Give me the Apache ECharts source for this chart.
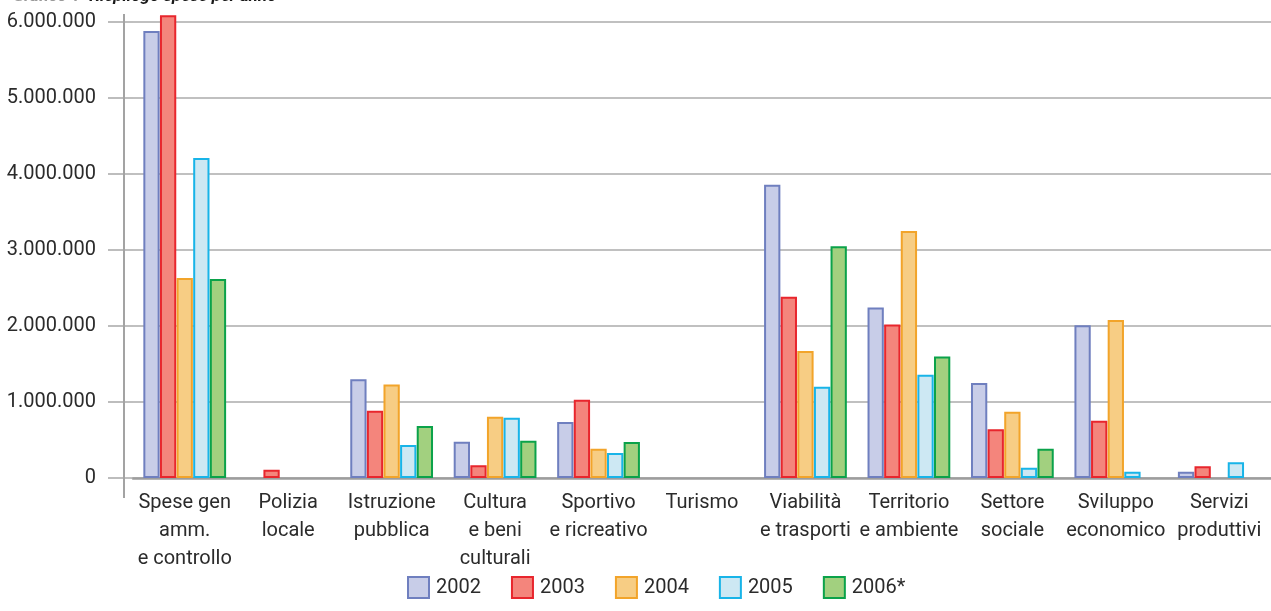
<!DOCTYPE html>
<html>
<head>
<meta charset="utf-8">
<script src="https://cdn.jsdelivr.net/npm/echarts@6/dist/echarts.min.js"></script>
<style>
  html, body { margin: 0; padding: 0; background: #ffffff; }
  #chart { width: 1271px; height: 611px; }
</style>
</head>
<body>
<div id="chart"></div>
<script>
// Spending by sector and year (euro)
const categories = [
  'Spese gen\namm.\ne controllo',
  'Polizia\nlocale',
  'Istruzione\npubblica',
  'Cultura\ne beni\nculturali',
  'Sportivo\ne ricreativo',
  'Turismo',
  'Viabilità\ne trasporti',
  'Territorio\ne ambiente',
  'Settore\nsociale',
  'Sviluppo\neconomico',
  'Servizi\nproduttivi'
];

const years = ['2002', '2003', '2004', '2005', '2006*'];

const values2002 = [5880000, null, 1300000, 478000, 737000, null, 3860000, 2245000, 1250000, 2010000, 83000];
const values2003 = [6090000, 110000, 885000, 167000, 1030000, null, 2385000, 2020000, 640000, 754000, 154000];
const values2004 = [2630000, null, 1230000, 807000, 386000, null, 1670000, 3250000, 873000, 2080000, null];
const values2005 = [4210000, null, 434000, 794000, 329000, null, 1200000, 1360000, 136000, 83000, 206000];
const values2006 = [2620000, null, 684000, 491000, 474000, null, 3050000, 1600000, 386000, null, null];

const yTicks = [0, 1000000, 2000000, 3000000, 4000000, 5000000, 6000000];

const seriesValues = [values2002, values2003, values2004, values2005, values2006];
const fills = ['#c8cde8', '#f4857c', '#f7cd84', '#cde8f3', '#a2d07f'];
const borders = ['#6f7fbf', '#e8262d', '#f2a42a', '#18b4e8', '#0ba24a'];

const FONT = 'Roboto, "Liberation Sans", Arial, sans-serif';
const TEXT = '#2b2b2b';

function fmt(v) {
  return String(v).replace(/\B(?=(\d{3})+(?!\d))/g, '.');
}

const chart = echarts.init(document.getElementById('chart'), null, { renderer: 'canvas' });

const yMin = yTicks[0];
const yMax = yTicks[yTicks.length - 1];
const yStep = yTicks[1] - yTicks[0];

const option = {
  animation: false,
  backgroundColor: '#ffffff',
  textStyle: { fontFamily: FONT },
  title: {
    left: 8,
    top: -17,
    text: '{a|Grafico 1}  {b|Riepilogo spese per anno}',
    textStyle: {
      rich: {
        a: { fontFamily: FONT, fontSize: 17, fontWeight: 'bold', fontStyle: 'italic', color: '#9a9a9a' },
        b: { fontFamily: FONT, fontSize: 17, fontWeight: 'bold', fontStyle: 'italic', color: '#1a1a1a' }
      }
    }
  },
  legend: {
    bottom: 7,
    left: 402,
    itemWidth: 21,
    itemHeight: 21,
    itemGap: 30,
    icon: 'rect',
    textStyle: { fontFamily: FONT, fontSize: 20, color: TEXT, padding: [0, 0, 0, 2] },
    data: years
  },
  grid: {
    left: 133,
    right: -7,
    top: 22,
    bottom: 133,
    containLabel: false
  },
  xAxis: {
    type: 'category',
    data: categories,
    axisLine: { lineStyle: { color: '#9d9d9d', width: 2.5 } },
    axisTick: { show: false },
    axisLabel: {
      fontFamily: FONT,
      fontSize: 20,
      color: TEXT,
      lineHeight: 28,
      margin: 11,
      interval: 0,
      align: 'center'
    }
  },
  yAxis: [
    {
      type: 'value',
      min: yMin,
      max: yMax,
      interval: yStep,
      offset: 9,
      axisLine: { show: true, lineStyle: { color: '#a3a3a3', width: 2 } },
      axisTick: { show: true, length: 16, lineStyle: { color: '#a8a8a8', width: 1.5 } },
      splitLine: { show: true, lineStyle: { color: '#ababab', width: 1.5 } },
      axisLabel: {
        fontFamily: FONT,
        fontSize: 20,
        color: TEXT,
        margin: 28,
        formatter: v => fmt(v)
      }
    },
    {
      type: 'value',
      position: 'left',
      min: yMin,
      max: yMax,
      interval: yStep,
      offset: 0,
      axisLine: { show: false },
      axisTick: { show: true, length: 9, lineStyle: { color: '#ababab', width: 1.5 } },
      splitLine: { show: false },
      axisLabel: { show: false }
    }
  ],
  series: years.map((name, i) => ({
    name: name,
    type: 'bar',
    data: seriesValues[i],
    clip: false,
    barCategoryGap: '20%',
    barGap: '2%',
    itemStyle: {
      color: fills[i],
      borderColor: borders[i],
      borderWidth: 2
    },
    emphasis: { disabled: true }
  }))
};

chart.setOption(option);

// extend the vertical axis line above the top gridline and below the baseline
const yTop = chart.convertToPixel({ yAxisIndex: 0 }, yMax);
const yBase = chart.convertToPixel({ yAxisIndex: 0 }, yMin);
const gridRect = chart.getModel().getComponent('grid').coordinateSystem.getRect();
const axisX = gridRect.x - 9;
chart.setOption({
  graphic: [
    {
      type: 'line',
      shape: { x1: axisX, y1: yTop - 8, x2: axisX, y2: yBase + 20 },
      style: { stroke: '#a3a3a3', lineWidth: 2 },
      z: 1
    }
  ]
});
</script>
</body>
</html>
